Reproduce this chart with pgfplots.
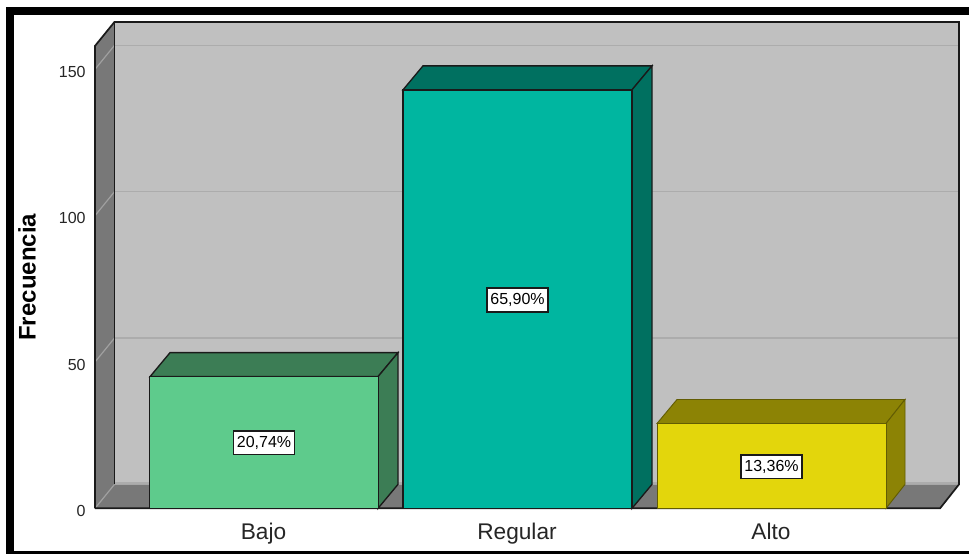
\documentclass[border=0pt]{standalone}
\usepackage{fontspec}
\setmainfont{Liberation Sans}
\usepackage{pgfplots}
\pgfplotsset{compat=1.18}

% x is in reference pixels, y in frequency units (2.927 px per unit)
\definecolor{wallgrey}{HTML}{C0C0C0}
\definecolor{sidegrey}{HTML}{787878}
\definecolor{gridback}{HTML}{ACACAC}
\definecolor{gridside}{HTML}{A0A0A0}
\definecolor{bajofront}{HTML}{5ECB8C}
\definecolor{bajodark}{HTML}{3C7D55}
\definecolor{regfront}{HTML}{00B6A0}
\definecolor{regdark}{HTML}{007060}
\definecolor{altofront}{HTML}{E3D60C}
\definecolor{altodark}{HTML}{8C8305}
\definecolor{edge}{HTML}{1A1A1A}

\tikzset{pct/.style={draw=edge, fill=white, font=\fontsize{12}{14}\selectfont,
    text height=9pt, text depth=2.5pt, inner xsep=2.6pt, inner ysep=3.2pt, line width=1pt}}

\begin{document}
\begin{tikzpicture}
\begin{axis}[
    x=0.75pt, y=2.195pt,
    xmin=95, xmax=959,
    ymin=0, ymax=166.2,
    clip=false,
    axis on top,
    axis line style={draw=none},
    major tick length=0pt,
    ytick={0,50,100,150},
    xtick={263.5,517,771},
    xticklabels={Bajo,Regular,Alto},
    /pgf/number format/assume math mode=true,
    yticklabel style={font=\fontsize{12}{14}\selectfont, text=black!85, xshift=-3.5pt, yshift=-2pt},
    xticklabel style={font=\fontsize{17}{20}\selectfont, text=black!85, yshift=-7.5pt},
    ylabel={Frecuencia},
    ylabel style={at={(axis description cs:-0.0787,0.475)}, anchor=center,
        font=\fontsize{18}{20}\bfseries\selectfont},
]
% page and black frame
\addplot[draw=none, fill=white] coordinates {(0,-15.54) (969,-15.54) (969,173.7) (0,173.7)} -- cycle;
\addplot[draw=none, fill=black] coordinates {(6,171.3) (969,171.3) (969,168.6) (6,168.6)} -- cycle;
\addplot[draw=none, fill=black] coordinates {(6,171.3) (14,171.3) (14,-15.54) (6,-15.54)} -- cycle;
\addplot[draw=none, fill=black] coordinates {(6,-14.7) (969,-14.7) (969,-15.54) (6,-15.54)} -- cycle;

% walls and floor
\addplot[draw=none, fill=wallgrey] coordinates {(114.5,8.2) (959,8.2) (959,166.2) (114.5,166.2)} -- cycle;
\addplot[draw=none, fill=sidegrey] coordinates {(95,0) (114.5,8.2) (114.5,166.2) (95,158)} -- cycle;
\addplot[draw=none, fill=sidegrey] coordinates {(95,0) (940,0) (959,8.2) (114.5,8.2)} -- cycle;

% grid lines
\addplot[gridback, line width=1.2pt] coordinates {(114.5,158.2) (959,158.2)};
\addplot[gridback, line width=1.2pt] coordinates {(114.5,108.2) (959,108.2)};
\addplot[gridback, line width=1.2pt] coordinates {(114.5,58.2) (959,58.2)};
\addplot[gridback, line width=1.2pt] coordinates {(114.5,8.6) (959,8.6)};
\addplot[gridside, line width=0.9pt] coordinates {(95,150) (114.5,158.2)};
\addplot[gridside, line width=0.9pt] coordinates {(95,100) (114.5,108.2)};
\addplot[gridside, line width=0.9pt] coordinates {(95,50) (114.5,58.2)};
\addplot[gridside, line width=0.9pt] coordinates {(95,0) (114.5,8.2)};

% wall outlines
\addplot[edge, line width=1.3pt] coordinates {(95,0) (95,158) (114.5,166.2) (959,166.2) (959,8.2) (940,0) (95,0)};
\addplot[edge, line width=1.3pt] coordinates {(114.5,8.2) (114.5,166.2)};

% Bajo
\addplot[draw=edge, line width=1pt, fill=bajodark] coordinates {(150,45) (170,53.2) (398,53.2) (378,45)} -- cycle;
\addplot[draw=edge, line width=1pt, fill=bajodark] coordinates {(378,0) (398,8.2) (398,53.2) (378,45)} -- cycle;
\addplot[ybar, bar width=171.75pt, bar shift=0pt, draw=edge, line width=1.1pt, fill=bajofront] coordinates {(264,45)};

% Regular
\addplot[draw=edge, line width=1pt, fill=regdark] coordinates {(403,143) (423,151.2) (652,151.2) (632,143)} -- cycle;
\addplot[draw=edge, line width=1pt, fill=regdark] coordinates {(632,0) (652,8.2) (652,151.2) (632,143)} -- cycle;
\addplot[ybar, bar width=171.75pt, bar shift=0pt, draw=edge, line width=1.1pt, fill=regfront] coordinates {(517.5,143)};

% Alto
\addplot[draw=altodark!70!black, line width=0.7pt, fill=altodark] coordinates {(657,29) (677,37.2) (905,37.2) (886,29)} -- cycle;
\addplot[draw=altodark!70!black, line width=0.7pt, fill=altodark] coordinates {(886,0) (905,8.2) (905,37.2) (886,29)} -- cycle;
\addplot[ybar, bar width=171.75pt, bar shift=0pt, draw=altodark!70!black, line width=0.7pt, fill=altofront] coordinates {(771.5,29)};

% percentage labels
\node[pct] at (axis cs:264,22.4) {20,74\%};
\node[pct] at (axis cs:517.5,71.2) {65,90\%};
\node[pct] at (axis cs:771.5,14.2) {13,36\%};
\end{axis}
\end{tikzpicture}
\end{document}
